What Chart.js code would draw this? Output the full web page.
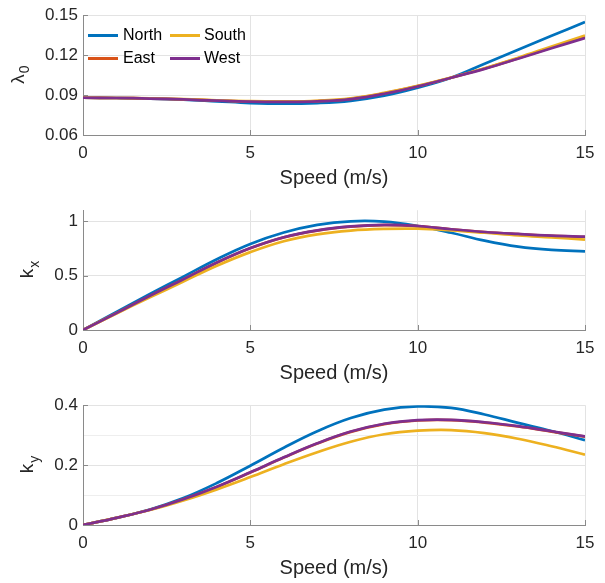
<!DOCTYPE html>
<html><head><meta charset="utf-8">
<script src="https://cdn.jsdelivr.net/npm/chart.js@4/dist/chart.umd.min.js"></script>
<style>
html,body{margin:0;padding:0;background:#fff;width:605px;height:583px;overflow:hidden;font-family:"Liberation Sans",Arial,sans-serif;}
.c{position:absolute;left:0;width:605px;height:195px;}
.li{position:absolute;font-size:16px;color:#000;white-space:nowrap;line-height:20px;}
.sw{position:absolute;height:3px;width:30px;}
</style></head><body>
<div class="c" style="top:0px"><canvas id="c1"></canvas></div>
<div class="c" style="top:195px"><canvas id="c2"></canvas></div>
<div class="c" style="top:390px"><canvas id="c3"></canvas></div>
<div id="legend"></div>
<script>
// ---- data ----
const speed = [0,1,2,3,4,5,6,7,8,9,10,11,12,13,14,15];
const seriesNames = ['North','East','South','West'];
const seriesColors = ['#0072BD','#D95319','#EDB120','#7E2F8E'];

const lambda0North = [0.0880,0.0878,0.0874,0.0866,0.0853,0.0840,0.0835,0.0840,0.0857,0.0895,0.0955,0.1030,0.1135,0.1240,0.1345,0.1448];
const lambda0East  = [0.0880,0.0878,0.0874,0.0868,0.0859,0.0852,0.0850,0.0855,0.0872,0.0913,0.0967,0.1030,0.1099,0.1176,0.1257,0.1336];
const lambda0South = [0.0880,0.0878,0.0875,0.0869,0.0861,0.0854,0.0852,0.0857,0.0875,0.0916,0.0969,0.1031,0.1102,0.1181,0.1265,0.1348];
const lambda0West  = [0.0880,0.0878,0.0874,0.0867,0.0858,0.0851,0.0849,0.0853,0.0870,0.0910,0.0965,0.1030,0.1097,0.1173,0.1252,0.1328];

const kxNorth = [0,0.165,0.330,0.490,0.650,0.790,0.895,0.965,0.998,0.995,0.955,0.893,0.820,0.765,0.735,0.722];
const kxEast  = [0,0.155,0.313,0.465,0.618,0.750,0.850,0.913,0.949,0.963,0.954,0.924,0.899,0.880,0.865,0.854];
const kxSouth = [0,0.152,0.300,0.445,0.590,0.715,0.815,0.878,0.913,0.928,0.930,0.915,0.893,0.869,0.850,0.830];
const kxWest  = [0,0.155,0.314,0.466,0.620,0.752,0.852,0.915,0.951,0.965,0.955,0.925,0.900,0.882,0.867,0.857];

const kyNorth = [0,0.024,0.052,0.090,0.140,0.198,0.258,0.313,0.357,0.385,0.396,0.391,0.369,0.341,0.314,0.283];
const kyEast  = [0,0.024,0.051,0.086,0.127,0.175,0.225,0.272,0.311,0.337,0.349,0.350,0.342,0.329,0.312,0.295];
const kySouth = [0,0.024,0.050,0.082,0.119,0.160,0.203,0.243,0.278,0.303,0.315,0.317,0.307,0.288,0.263,0.235];
const kyWest  = [0,0.024,0.051,0.086,0.128,0.176,0.226,0.273,0.312,0.338,0.350,0.351,0.343,0.330,0.313,0.296];

const xTicks = [0,5,10,15];
const xTitle = 'Speed (m/s)';

// ---- helpers ----
const FONT = '"Liberation Sans", Arial, sans-serif';
const AXIS_COLOR = '#8a8a8a';
const TEXT_COLOR = '#262626';

function makeDatasets(arrs){
  return arrs.map((a,i)=>({
    label: seriesNames[i],
    data: speed.map((s,j)=>({x:s,y:a[j]})),
    borderColor: seriesColors[i],
    backgroundColor: seriesColors[i],
    borderWidth: 2.7,
    pointRadius: 0,
    tension: 0.4,
    order: arrs.length - 1 - i,   // later series drawn on top (as in the reference)
    fill: false
  }));
}

const yTitlePlugin = {
  id: 'yTitleSub',
  afterDraw(chart, args, o){
    const ctx = chart.ctx, ca = chart.chartArea;
    ctx.save();
    ctx.translate(o.x, (ca.top+ca.bottom)/2);
    ctx.rotate(-Math.PI/2);
    ctx.fillStyle = TEXT_COLOR;
    ctx.textBaseline = 'alphabetic';
    ctx.font = '19px ' + FONT;
    const wm = ctx.measureText(o.main).width;
    ctx.font = '14px ' + FONT;
    const ws = ctx.measureText(o.sub).width;
    const start = -(wm+ws)/2;
    ctx.font = '19px ' + FONT;
    ctx.fillText(o.main, start, 0);
    ctx.font = '14px ' + FONT;
    ctx.fillText(o.sub, start+wm+1, o.dy);
    ctx.restore();
  }
};

const tickMarkPlugin = {
  id: 'tickMarks',
  beforeDatasetsDraw(chart){
    const ctx = chart.ctx, ca = chart.chartArea;
    const xs = chart.scales.x, ys = chart.scales.y;
    ctx.save();
    ctx.strokeStyle = AXIS_COLOR;
    ctx.lineWidth = 1;
    ctx.beginPath();
    xs.ticks.forEach(t=>{
      const px = Math.round(xs.getPixelForValue(t.value))+0.5;
      ctx.moveTo(px, ca.bottom); ctx.lineTo(px, ca.bottom-5);
    });
    ys.ticks.forEach(t=>{
      if (t.label === '') return;
      const py = Math.round(ys.getPixelForValue(t.value))+0.5;
      ctx.moveTo(ca.left, py); ctx.lineTo(ca.left+5, py);
    });
    ctx.stroke();
    ctx.restore();
  }
};

function makeChart(id, arrs, yopt, topPad, title){
  const canvas = document.getElementById(id);
  canvas.width = 605; canvas.height = 195;
  canvas.style.width = '605px'; canvas.style.height = '195px';
  return new Chart(canvas, {
    type: 'line',
    data: { datasets: makeDatasets(arrs) },
    options: {
      responsive: false,
      animation: false,
      devicePixelRatio: 1,
      layout: { padding: { top: topPad, right: 20, bottom: 0, left: 0 } },
      plugins: {
        legend: { display: false },
        tooltip: { enabled: false },
        yTitleSub: title
      },
      scales: {
        x: {
          type: 'linear', min: 0, max: 15,
          afterBuildTicks: s => { s.ticks = xTicks.map(v=>({value:v})); },
          ticks: { font: { size: 17, family: FONT }, color: TEXT_COLOR, padding: 8, maxRotation: 0, autoSkip: false },
          grid: { color: '#e3e3e3', drawTicks: false },
          border: { color: AXIS_COLOR, width: 1 },
          title: { display: true, text: xTitle, color: TEXT_COLOR, font: { size: 20, family: FONT }, padding: { top: 0, bottom: 5 } },
          afterFit: s => { s.height = 60; }
        },
        y: Object.assign({
          type: 'linear',
          grid: { color: ctx => (ctx.tick && ctx.tick.label === '') ? '#eeeeee' : '#e3e3e3', drawTicks: false },
          border: { color: AXIS_COLOR, width: 1 },
          afterFit: s => { s.width = 83; }
        }, yopt)
      }
    },
    plugins: [yTitlePlugin, tickMarkPlugin]
  });
}

makeChart('c1', [lambda0North, lambda0East, lambda0South, lambda0West], {
  min: 0.06, max: 0.15,
  ticks: { stepSize: 0.03, font: { size: 17, family: FONT }, color: TEXT_COLOR, padding: 5, callback: v => v.toFixed(2) }
}, 15, { main: 'λ', sub: '0', x: 24, dy: 5 });

makeChart('c2', [kxNorth, kxEast, kxSouth, kxWest], {
  min: 0, max: 1.1,
  ticks: { stepSize: 0.5, includeBounds: false, font: { size: 17, family: FONT }, color: TEXT_COLOR, padding: 5, callback: v => String(Math.round(v*10)/10) }
}, 13, { main: 'k', sub: 'x', x: 33, dy: 6 });

makeChart('c3', [kyNorth, kyEast, kySouth, kyWest], {
  min: 0, max: 0.4,
  ticks: { stepSize: 0.1, font: { size: 17, family: FONT }, color: TEXT_COLOR, padding: 5,
    callback: v => (Math.round(v*10) % 2 === 0) ? String(Math.round(v*10)/10) : '' }
}, 15, { main: 'k', sub: 'y', x: 33, dy: 6 });

// ---- legend (HTML, inside top plot) ----
const legend = document.getElementById('legend');
seriesNames.forEach((name,i)=>{
  const col = Math.floor(i/2), row = i%2;
  const cy = 35 + row*23;
  const sw = document.createElement('div');
  sw.className = 'sw';
  sw.style.left = (88 + col*82) + 'px';
  sw.style.top = (cy - 1.5) + 'px';
  sw.style.background = seriesColors[i];
  legend.appendChild(sw);
  const t = document.createElement('div');
  t.className = 'li';
  t.style.left = (123 + col*81) + 'px';
  t.style.top = (cy - 10) + 'px';
  t.textContent = name;
  legend.appendChild(t);
});
</script>
</body></html>
